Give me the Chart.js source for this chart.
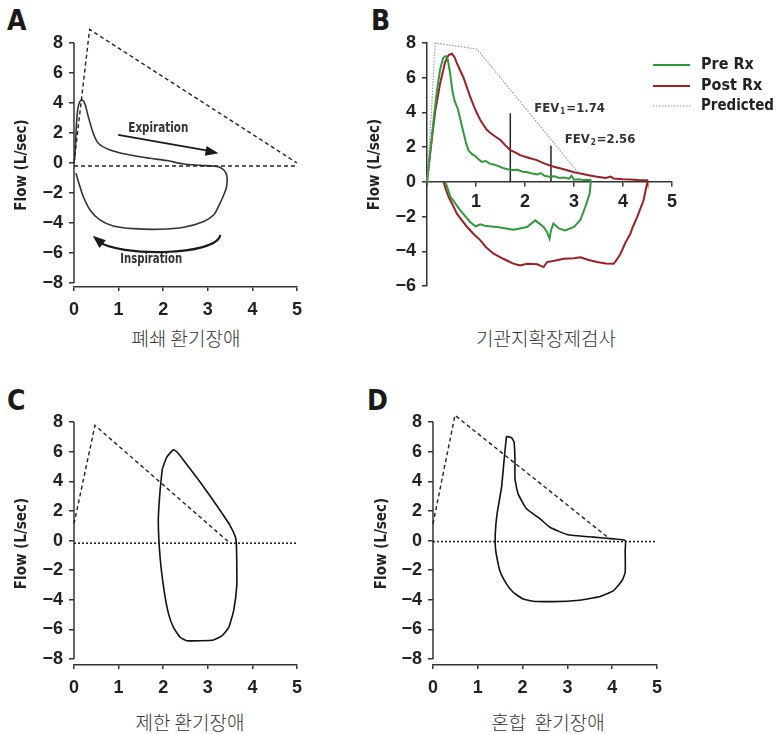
<!DOCTYPE html>
<html><head><meta charset="utf-8">
<script src="https://cdn.jsdelivr.net/npm/chart.js@4.4.1/dist/chart.umd.min.js"></script>
<style>
body{margin:0;background:#fff;width:777px;height:734px;position:relative;overflow:hidden}
canvas{position:absolute}
.lbl{position:absolute;font:bold 28px "Liberation Sans Narrow","DejaVu Sans Condensed","Liberation Sans",sans-serif;color:#1a1a1a;line-height:1}
.cap{position:absolute;font:300 19px "Noto Sans CJK KR",sans-serif;color:#333;transform:translate(-50%,-50%);white-space:pre;line-height:1}
</style></head><body>
<div class="lbl" style="left:7px;top:7px">A</div>
<div class="lbl" style="left:371px;top:7px">B</div>
<div class="lbl" style="left:7px;top:387px">C</div>
<div class="lbl" style="left:367px;top:387px">D</div>
<div class="cap" style="left:186px;top:337px">폐쇄 환기장애</div>
<div class="cap" style="left:546px;top:337px">기관지확장제검사</div>
<div class="cap" style="left:190px;top:721px">제한 환기장애</div>
<div class="cap" style="left:548px;top:721px">혼합  환기장애</div>
<canvas id="cA" width="360" height="360" style="left:0;top:0"></canvas>
<canvas id="cB" width="417" height="360" style="left:360px;top:0"></canvas>
<canvas id="cC" width="360" height="374" style="left:0;top:360px"></canvas>
<canvas id="cD" width="417" height="374" style="left:360px;top:360px"></canvas>
<script>
// ---------- data ----------
const xTicks = [0,1,2,3,4,5];
const yTicksFull = [8,6,4,2,0,-2,-4,-6,-8];
const yTicksB = [8,6,4,2,0,-2,-4,-6];

// A: obstructive
const aPredicted = [[0,0],[0.35,8.9],[5,0]];
const aBaseline = [[0,-0.2],[5,-0.2]];
const aLoop = [[0.015,0.2],[0.045,2.0],[0.08,3.5],[0.13,4.1],[0.19,4.2],[0.25,3.9],[0.32,3.1],[0.43,2.0],[0.55,1.3],[0.81,0.87],[1.18,0.58],[1.71,0.31],[2.08,0.16],[2.46,-0.07],[2.83,-0.16],[3.21,-0.24],[3.36,-0.47],[3.43,-0.9],[3.42,-1.6],[3.34,-2.25],[3.24,-2.9],[3.13,-3.47],[2.91,-3.9],[2.46,-4.29],[1.93,-4.42],[1.33,-4.38],[0.88,-4.2],[0.58,-3.8],[0.36,-3.13],[0.21,-2.25],[0.11,-1.35],[0.045,-0.69]];

// B: bronchodilator test
const bPredicted = [[0,0],[0.1,4.5],[0.14,6.8],[0.17,8.0],[1.02,7.65],[3.1,0.48]];
const bPre = [[0,0],[0.07,1.8],[0.14,3.7],[0.2,5.2],[0.27,6.5],[0.33,7.15],[0.38,7.25],[0.42,7.1],[0.47,6.3],[0.52,5.2],[0.57,4.6],[0.63,4.2],[0.68,3.6],[0.74,2.9],[0.8,2.2],[0.85,1.8],[0.92,1.6],[0.98,1.5],[1.05,1.3],[1.12,1.15],[1.2,1.2],[1.28,1.05],[1.36,1.0],[1.45,0.92],[1.55,0.8],[1.65,0.72],[1.75,0.68],[1.85,0.7],[1.95,0.58],[2.05,0.55],[2.15,0.48],[2.25,0.42],[2.32,0.5],[2.4,0.35],[2.5,0.3],[2.6,0.32],[2.7,0.22],[2.8,0.25],[2.9,0.18],[2.95,0.35],[3.0,0.12],[3.1,0.15],[3.2,0.1],[3.33,0.1],
  [3.34,-0.1],[3.32,-0.67],[3.23,-1.45],[3.13,-2.2],[3.0,-2.6],[2.82,-2.8],[2.7,-2.7],[2.62,-2.5],[2.58,-2.4],[2.53,-2.8],[2.5,-3.28],[2.45,-2.9],[2.38,-2.6],[2.21,-2.22],[2.04,-2.6],[1.77,-2.76],[1.43,-2.6],[1.2,-2.55],[1.09,-2.45],[0.99,-2.56],[0.88,-2.31],[0.68,-1.64],[0.48,-0.87],[0.41,-0.29],[0.37,0]];
const bPost = [[0,0],[0.07,1.8],[0.17,4.1],[0.27,5.7],[0.37,6.9],[0.44,7.3],[0.51,7.38],[0.56,7.2],[0.61,6.84],[0.68,6.4],[0.75,5.97],[0.82,5.4],[0.88,4.91],[0.95,4.4],[1.02,3.95],[1.1,3.5],[1.22,3.0],[1.3,2.8],[1.4,2.6],[1.5,2.41],[1.6,2.1],[1.7,1.83],[1.8,1.7],[1.9,1.54],[2.05,1.4],[2.24,1.25],[2.4,1.05],[2.59,0.87],[2.75,0.75],[2.86,0.67],[3.0,0.55],[3.13,0.48],[3.3,0.38],[3.47,0.29],[3.65,0.22],[3.75,0.3],[3.81,0.19],[4.0,0.15],[4.15,0.13],[4.3,0.11],[4.49,0.1],
  [4.5,0],[4.46,-0.5],[4.42,-1.06],[4.29,-2.02],[4.2,-2.6],[4.15,-2.99],[4.05,-3.5],[3.95,-4.14],[3.87,-4.5],[3.81,-4.72],[3.65,-4.7],[3.47,-4.62],[3.3,-4.5],[3.13,-4.34],[3.0,-4.4],[2.79,-4.43],[2.6,-4.55],[2.45,-4.62],[2.38,-4.91],[2.25,-4.75],[2.04,-4.72],[1.9,-4.82],[1.75,-4.7],[1.63,-4.53],[1.5,-4.35],[1.36,-4.14],[1.2,-3.75],[1.09,-3.37],[0.95,-3.0],[0.82,-2.6],[0.72,-2.25],[0.61,-1.83],[0.52,-1.3],[0.44,-0.87],[0.38,-0.4],[0.34,0]];
const fev1 = [[1.7,0],[1.7,3.95]];
const fev2 = [[2.53,0],[2.53,2.08]];
const fevLabels = [['FEV','1','=1.74',2.19,4.3],['FEV','2','=2.56',2.81,2.5]];
const legendNames = ['Pre Rx','Post Rx','Predicted'];

// C: restrictive
const cPredicted = [[0,1.13],[0.47,7.77],[3.45,-0.05]];
const cBaseline = [[0,-0.18],[5,-0.18]];
const cLoop = [[1.98,4.84],[2.08,5.63],[2.23,6.13],[2.31,5.97],[2.49,5.29],[2.83,3.94],[3.2,2.36],[3.5,1.01],[3.62,0.23],[3.64,-0.23],[3.65,-1.58],[3.65,-3.04],[3.58,-4.73],[3.47,-5.86],[3.32,-6.42],[3.13,-6.71],[2.83,-6.76],[2.53,-6.76],[2.38,-6.53],[2.23,-5.86],[2.12,-4.95],[2.02,-3.38],[1.93,-1.13],[1.89,1.35],[1.93,3.38],[1.98,4.84]];

// D: mixed
const dPredicted = [[0,1.13],[0.49,8.45],[3.95,0.1]];
const dBaseline = [[0,-0.07],[5,-0.07]];
const dLoop = [[1.64,7.03],[1.75,6.94],[1.81,6.64],[1.83,5.41],[1.83,4.17],[1.9,3.15],[2.09,2.14],[2.39,1.46],[2.61,0.9],[2.99,0.41],[3.58,0.23],[4.03,0.11],[4.29,0.0],[4.29,-0.68],[4.29,-2.14],[4.22,-2.7],[4.03,-3.38],[3.73,-3.78],[3.21,-4.05],[2.69,-4.12],[2.24,-4.1],[2.01,-3.94],[1.79,-3.49],[1.64,-2.93],[1.49,-2.03],[1.4,-0.68],[1.39,0.45],[1.43,1.8],[1.53,3.6],[1.6,5.86],[1.64,7.03]];

// ---------- helpers ----------
const NARROW = '"Liberation Sans Narrow","DejaVu Sans Condensed","Liberation Sans",sans-serif';
const TICKF = {family:'"Liberation Sans",Arial,sans-serif', size:18, weight:'bold'};
const fmt = v => v < 0 ? '\u2212' + Math.abs(v) : String(v);
const line = (pts, color, width, dash, tension) => ({
  data: pts.map(p => ({x:p[0], y:p[1]})), showLine:true, borderColor:color, backgroundColor:color,
  borderWidth:width, borderDash:dash||[], pointRadius:0, tension:tension||0, fill:false, clip:false
});

function yAxisLinePlugin(top, bottom){
  return {id:'yline', beforeDatasetsDraw(chart){
    const ctx = chart.ctx, x = chart.scales.x.getPixelForValue(0), ys = chart.scales.y;
    ctx.save(); ctx.strokeStyle='#333'; ctx.lineWidth=1.5; ctx.beginPath();
    ctx.moveTo(x, ys.getPixelForValue(top)); ctx.lineTo(x, ys.getPixelForValue(bottom)); ctx.stroke(); ctx.restore();
  }};
}

function baseOptions(o){
  return {
    responsive:false, animation:false, events:[],
    layout:{padding:o.padding},
    plugins:{legend:{display:false}, tooltip:{enabled:false}},
    scales:{
      x:{type:'linear', min:0, max:5, position:o.xPos||'bottom',
        afterBuildTicks:s=>{s.ticks=xTicks.map(v=>({value:v}));},
        afterFit:s=>{ if(!o.xPos) s.height=30; },
        grid:{drawOnChartArea:false, drawTicks:true, tickLength:4, color:'#333', lineWidth:1.5},
        border:{display:true, color:'#333', width:1.5},
        ticks:{font:TICKF, color:'#222', padding:o.xPad||8, maxRotation:0, autoSkip:false,
          callback:v=> (o.hideZero && v===0) ? '' : fmt(v)}},
      y:{type:'linear', min:o.ymin, max:8,
        afterBuildTicks:s=>{s.ticks=o.yTicks.map(v=>({value:v}));},
        afterFit:s=>{s.width=o.yWidth;},
        grid:{drawOnChartArea:false, drawTicks:true, tickLength:5, color:'#333', lineWidth:1.5},
        border:{display:!o.customY, color:'#333', width:1.5},
        ticks:{font:TICKF, color:'#222', padding:6, autoSkip:false, callback:v=>fmt(v)},
        title:{display:true, text:'Flow (L/sec)', color:'#222',
          font:{family:NARROW, size:15, weight:'bold'}, padding:{top:o.titlePad, bottom:0}}}
    }
  };
}

// ---------- A ----------
const annotA = {id:'annotA', afterDatasetsDraw(chart){
  const ctx=chart.ctx, xs=chart.scales.x, ys=chart.scales.y;
  const P=(x,y)=>[xs.getPixelForValue(x), ys.getPixelForValue(y)];
  ctx.save(); ctx.strokeStyle='#1a1a1a'; ctx.fillStyle='#1a1a1a'; ctx.lineWidth=1.8;
  const head=(from,to)=>{const a=Math.atan2(to[1]-from[1],to[0]-from[0]), L=13, W=5;
    ctx.beginPath(); ctx.moveTo(to[0],to[1]);
    ctx.lineTo(to[0]-L*Math.cos(a)+W*Math.sin(a), to[1]-L*Math.sin(a)-W*Math.cos(a));
    ctx.lineTo(to[0]-L*Math.cos(a)-W*Math.sin(a), to[1]-L*Math.sin(a)+W*Math.cos(a));
    ctx.closePath(); ctx.fill();};
  const s=P(0.99,1.87), e=P(3.24,0.65);
  ctx.beginPath(); ctx.moveTo(s[0],s[1]); ctx.lineTo(e[0]-8,e[1]-2); ctx.stroke(); head(s,e);
  ctx.lineWidth=2.2;
  const p0=P(3.28,-4.8), c1=P(3.2,-6.2), c2=P(1.0,-6.3), p3=P(0.42,-4.85);
  ctx.beginPath(); ctx.moveTo(p0[0],p0[1]); ctx.bezierCurveTo(c1[0],c1[1],c2[0],c2[1],p3[0]+4,p3[1]+5); ctx.stroke(); head(c2,p3);
  ctx.font='bold 14px '+NARROW; ctx.textAlign='center'; ctx.textBaseline='middle'; ctx.fillStyle='#333';
  let t=P(1.89,2.33); ctx.fillText('Expiration',t[0],t[1],60);
  t=P(1.73,-6.4); ctx.fillText('Inspiration',t[0],t[1],62);
  ctx.restore();
}};
new Chart(document.getElementById('cA'), {
  type:'scatter',
  data:{datasets:[
    line(aPredicted,'#222',1.4,[4,3]),
    line(aBaseline,'#222',1.4,[4,3]),
    line(aLoop,'#333',1.6,[],0.3)
  ]},
  options:baseOptions({padding:{left:0,right:63,top:43,bottom:43}, ymin:-8.27, yTicks:yTicksFull, yWidth:74, titlePad:13, customY:true}),
  plugins:[yAxisLinePlugin(8,-8), annotA]
});

// ---------- B ----------
const BCOL = ['#2f9a3c','#9c1f26','#9a9a9a'];
const annotB = {id:'annotB', afterDatasetsDraw(chart){
  const ctx=chart.ctx, xs=chart.scales.x, ys=chart.scales.y;
  ctx.save(); ctx.fillStyle='#333'; ctx.textBaseline='alphabetic';
  fevLabels.forEach(f=>{
    let x=xs.getPixelForValue(f[3]), y=ys.getPixelForValue(f[4])+5;
    ctx.font='bold 13px '+NARROW; ctx.fillText(f[0],x,y); x+=ctx.measureText(f[0]).width+1;
    ctx.font='bold 8px '+NARROW; ctx.fillText(f[1],x,y+2); x+=ctx.measureText(f[1]).width+1;
    ctx.font='bold 13px '+NARROW; ctx.fillText(f[2],x,y);
  });
  // legend
  const ly=[65,86,106];
  legendNames.forEach((n,i)=>{
    ctx.beginPath(); ctx.strokeStyle=BCOL[i]; ctx.lineWidth=i===2?1.2:2; ctx.setLineDash(i===2?[1.5,1.5]:[]);
    ctx.moveTo(293,ly[i]); ctx.lineTo(330,ly[i]); ctx.stroke(); ctx.setLineDash([]);
    ctx.font='bold 16px '+NARROW; ctx.fillStyle='#222'; ctx.textBaseline='middle'; ctx.fillText(n,341,ly[i],73);
  });
  ctx.restore();
}};
new Chart(document.getElementById('cB'), {
  type:'scatter',
  data:{datasets:[
    line(bPredicted,BCOL[2],1.2,[1.5,1.5]),
    line(bPre,BCOL[0],2),
    line(bPost,BCOL[1],2),
    line(fev1,'#222',1.5),
    line(fev2,'#222',1.5)
  ]},
  options:baseOptions({padding:{left:0,right:105,top:43,bottom:74}, ymin:-6, yTicks:yTicksB, yWidth:67, titlePad:6, xPos:{y:0}, hideZero:true, xPad:5}),
  plugins:[annotB]
});

// ---------- C ----------
new Chart(document.getElementById('cC'), {
  type:'scatter',
  data:{datasets:[
    line(cPredicted,'#222',1.4,[4,3]),
    line(cBaseline,'#222',1.6,[2,2]),
    line(cLoop,'#111',1.6,[],0.15)
  ]},
  options:baseOptions({padding:{left:0,right:63,top:62,bottom:39}, ymin:-8.4, yTicks:yTicksFull, yWidth:74, titlePad:13, customY:true}),
  plugins:[yAxisLinePlugin(8,-8)]
});

// ---------- D ----------
new Chart(document.getElementById('cD'), {
  type:'scatter',
  data:{datasets:[
    line(dPredicted,'#222',1.4,[4,3]),
    line(dBaseline,'#222',1.6,[2,2]),
    line(dLoop,'#111',1.6,[],0.15)
  ]},
  options:baseOptions({padding:{left:0,right:120,top:62,bottom:39}, ymin:-8.4, yTicks:yTicksFull, yWidth:73, titlePad:13, customY:true}),
  plugins:[yAxisLinePlugin(8,-8)]
});
</script>
</body></html>
